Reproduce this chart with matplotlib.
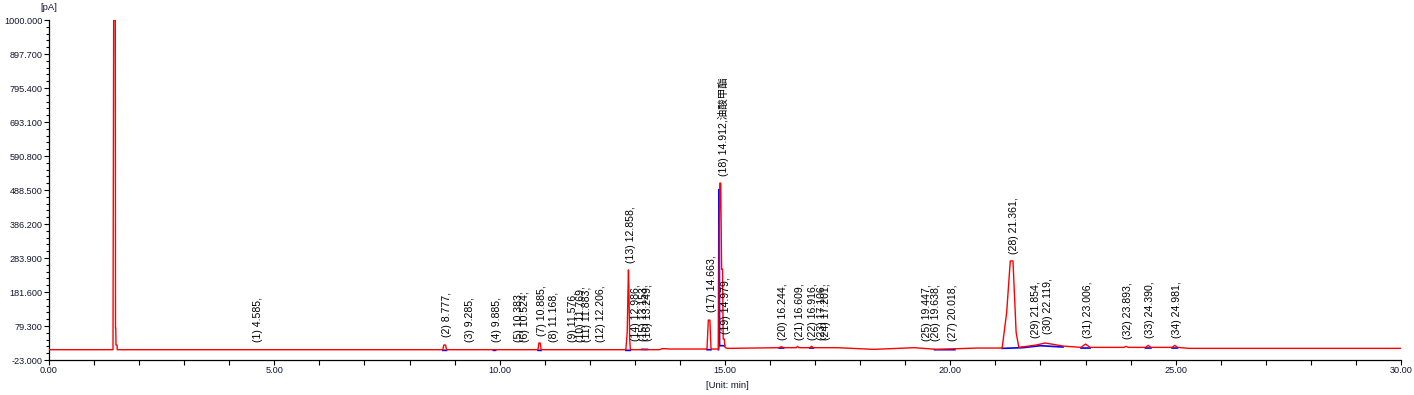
import matplotlib
matplotlib.use("Agg")
import matplotlib.pyplot as plt
from matplotlib.ticker import MultipleLocator, FixedLocator, FormatStrFormatter

plt.rcParams['font.family'] = ['Liberation Sans', 'Noto Sans CJK SC', 'DejaVu Sans']

nan = float('nan')

# red trace (min, pA)
red_t = [0.0, 1.42, 1.435, 1.471, 1.476, 1.482, 1.486, 1.51, 1.515,
         8.74, 8.76, 8.80, 8.82, 10.85, 10.87, 10.90, 10.92,
         12.80, 12.83, 12.845, 12.858, 12.87, 12.885, 12.90,
         13.55, 13.6, 13.7, 13.75, 14.60, 14.63, 14.665, 14.69,
         14.86, 14.875, 14.885, 14.905, 14.925, 14.945, 14.96, 14.985, 15.0, 15.05,
         16.2, 16.25, 16.3, 16.58, 16.61, 16.64, 16.88, 16.92, 16.96, 17.5,
         18.3, 19.2, 19.7, 20.6, 21.15, 21.25, 21.33, 21.39, 21.46, 21.52,
         21.8, 21.9, 22.1, 22.2, 22.5, 22.9, 23.0, 23.1, 23.85, 23.9, 23.95,
         24.33, 24.39, 24.45, 24.92, 24.98, 25.04, 25.3, 30.0]
red_v = [8, 8, 1000, 1000, 73, 73, 22, 22, 8,
         8, 22, 22, 8, 8, 28, 28, 8,
         8, 60, 170, 248, 170, 40, 8,
         8, 11, 11, 10, 10, 97, 97, 10,
         10, 390, 509, 509, 250, 250, 40, 40, 15, 12,
         14, 17, 14, 14, 18, 14, 14, 18, 14, 14,
         9, 14, 9, 13, 13, 120, 275, 275, 60, 15,
         20, 22, 28, 26, 19, 15, 25, 15, 15, 18, 15,
         15, 21, 15, 15, 21, 15, 12, 12]

# blue trace (second channel / baselines under peaks), nan breaks the line
blue_t = [8.74, 8.82, nan, 9.86, 9.91, nan, 10.85, 10.92, nan, 12.80, 12.90, nan,
          13.15, 13.28, nan, 14.60, 14.69, nan, 14.855, 14.866, 14.872, 14.88, 14.99, nan,
          16.2, 16.3, nan, 16.88, 16.96, nan, 19.65, 20.1, nan,
          21.15, 21.6, 22.0, 22.5, nan, 22.9, 23.1, nan, 24.33, 24.45, nan, 24.92, 25.04]
blue_v = [6, 6, nan, 6, 6, nan, 6, 6, nan, 6, 6, nan,
          9, 9, nan, 8, 8, nan, 8, 490, 490, 20, 20, nan,
          13, 13, nan, 13, 13, nan, 8, 8, nan,
          12, 14, 20, 16, nan, 13, 13, nan, 13, 13, nan, 13, 13]

peak_times = [4.585, 8.777, 9.285, 9.885, 10.383, 10.524, 10.885, 11.168, 11.576, 11.769,
              11.883, 12.206, 12.858, 12.986, 13.153, 13.249, 14.663, 14.912, 14.979, 16.244,
              16.609, 16.916, 17.106, 17.201, 19.447, 19.638, 20.018, 21.361, 21.854, 22.119,
              23.006, 23.893, 24.390, 24.981]
peak_heights = [10, 25, 10, 10, 10, 10, 28, 10, 10, 10,
                10, 10, 248, 13, 13, 13, 100, 509, 34, 16,
                16, 16, 16, 16, 13, 13, 13, 275, 22, 34,
                22, 19, 22, 22]
peak_names = {18: '油酸甲酯'}

y_ticks = [-23.0, 79.3, 181.6, 283.9, 386.2, 488.5, 590.8, 693.1, 795.4, 897.7, 1000.0]
x_ticks = [0, 5, 10, 15, 20, 25, 30]

txt_col = '#141432'

fig = plt.figure(figsize=(14.14, 3.95), dpi=100)
ax = fig.add_axes([49 / 1414, 35 / 395, 1352 / 1414, 340 / 395])

ax.plot(blue_t, blue_v, color='blue', lw=1.2, zorder=2)
ax.plot(red_t, red_v, color='red', lw=1.0, zorder=3)

# peak labels
for i, (t, h) in enumerate(zip(peak_times, peak_heights)):
    n = i + 1
    if n in peak_names:
        s = '(%d) %.3f,%s' % (n, t, peak_names[n])
    else:
        s = '(%d) %.3f,' % (n, t)
    ax.annotate(s, (t, h), xytext=(1.5, 5), textcoords='offset points',
                rotation=90, ha='center', va='bottom', fontsize=7.6,
                color='black', annotation_clip=False)

ax.set_xlim(0, 30)
ax.set_ylim(-23, 1000)
ax.xaxis.set_major_locator(FixedLocator(x_ticks))
ax.xaxis.set_minor_locator(MultipleLocator(1))
ax.xaxis.set_major_formatter(FormatStrFormatter('%.2f'))
ax.yaxis.set_major_locator(FixedLocator(y_ticks))
ax.yaxis.set_minor_locator(FixedLocator([-23 + 20.46 * k for k in range(51)]))
ax.yaxis.set_major_formatter(FormatStrFormatter('%.3f'))

for side in ['top', 'right']:
    ax.spines[side].set_visible(False)
ax.spines['left'].set_linewidth(0.9)
ax.spines['bottom'].set_linewidth(0.9)
ax.tick_params(axis='both', which='major', length=3.6, width=0.8, labelsize=6.6,
               labelcolor=txt_col, pad=1)
ax.tick_params(axis='y', which='minor', length=2, width=0.8)
ax.tick_params(axis='x', which='minor', length=3.6, width=0.8)

fig.text(49 / 1414, 1 - 8 / 395, '[pA]', ha='center', va='center', fontsize=6.8, color=txt_col)
fig.text(727 / 1414, 1 - 385 / 395, '[Unit: min]', ha='center', va='center', fontsize=6.8, color=txt_col)

fig.savefig('out.png', dpi=100)
